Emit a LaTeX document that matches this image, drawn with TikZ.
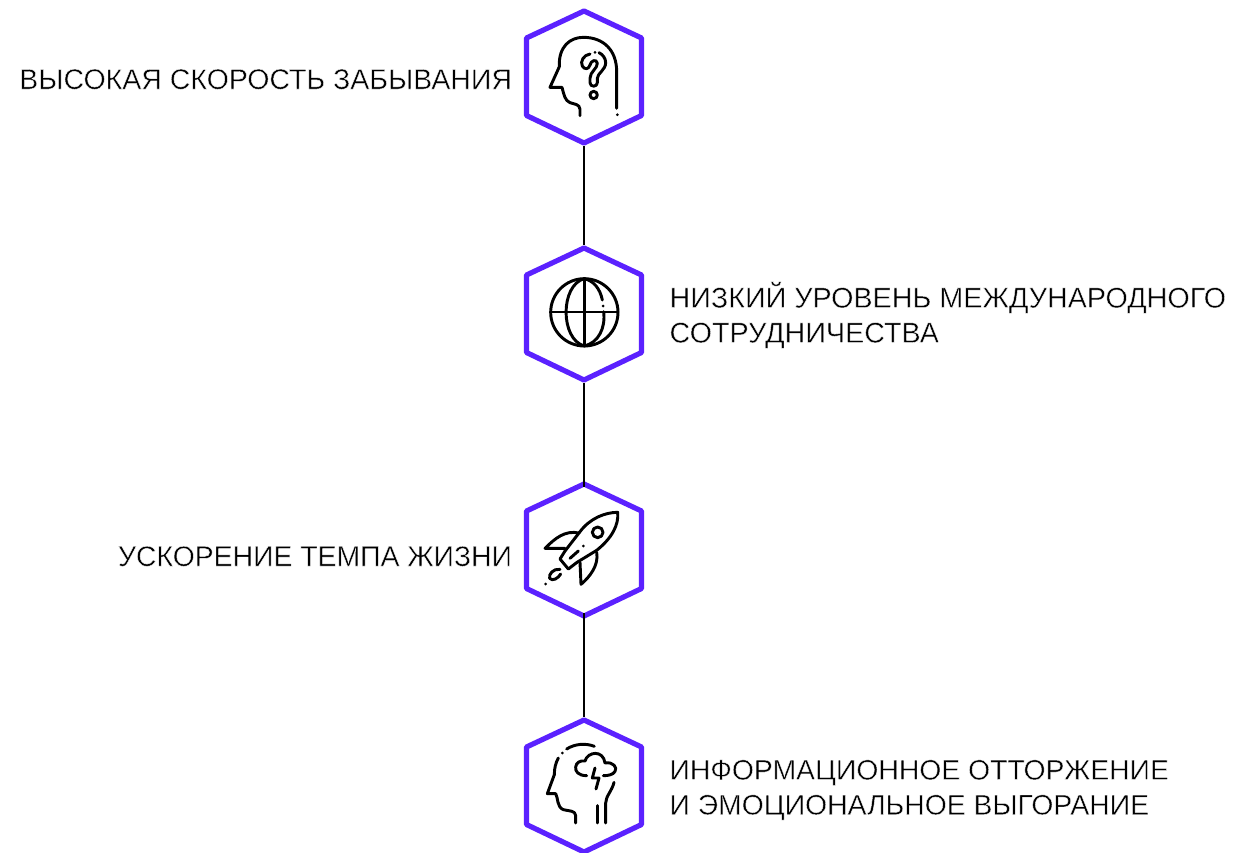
\documentclass[tikz,border=0pt]{standalone}
\usepackage{fontspec}
\setmainfont{Liberation Sans}
\newcommand{\lighttext}[1]{\special{pdf:code q 2 Tr 0.3 w 1 1 1 RG}#1\special{pdf:code Q}}
\tikzset{
 hexline/.style={draw=hexpurple,line width=5.2*0.75pt,line join=round},
 anchorbox/.style={inner sep=0pt,outer sep=0pt,minimum width=115*0.75pt},
 link/.style={draw=black,line width=1.6pt},
 icon/.style={draw=black,line width=2.2pt,line cap=round,line join=round,fill=none},
 spot/.style={fill=black,draw=none},
 lab/.style={inner sep=0pt,outer sep=0pt,font=\fontsize{#1}{26.2pt}\selectfont,align=left,text=black},
}
\definecolor{hexpurple}{HTML}{5B21FF}
\newcommand{\hexat}[1]{\draw[hexline] (#1)+(0,-66) -- +(57.5,-39) -- +(57.5,38.5) -- +(0,66) -- +(-57.5,38.5) -- +(-57.5,-39) -- cycle;}
\begin{document}
\begin{tikzpicture}[x=0.75pt,y=-0.75pt]
\useasboundingbox (0,0) rectangle (1235,853);
\node[anchorbox,minimum height=138*0.75pt] (h1) at (584,77) {};
\node[anchorbox,minimum height=138*0.75pt] (h2) at (584,314) {};
\node[anchorbox,minimum height=126*0.75pt] (h3) at (584,550) {};
\node[anchorbox,minimum height=138*0.75pt] (h4) at (584,786) {};
\hexat{h1}\hexat{h2}\hexat{h3}\hexat{h4}
\draw[link] (h1.south) -- (h2.north);
\draw[link] (h2.south) -- (h3.north);
\draw[link] (h3.south) -- (h4.north);
\node[lab=21.38pt,anchor=base east] (t1) at (512,89) {\lighttext{ВЫСОКАЯ СКОРОСТЬ ЗАБЫВАНИЯ}};
\node[lab=21.28pt,anchor=base east] (t3) at (512,566) {\lighttext{УСКОРЕНИЕ ТЕМПА ЖИЗНИ}};
\node[lab=21.55pt,anchor=west] (t2) at (669.5,315) {\lighttext{НИЗКИЙ УРОВЕНЬ МЕЖДУНАРОДНОГО}\\\lighttext{СОТРУДНИЧЕСТВА}};
\node[lab=21.25pt,anchor=west] (t4) at (669.5,790) {\lighttext{ИНФОРМАЦИОННОЕ ОТТОРЖЕНИЕ}\\\lighttext{И ЭМОЦИОНАЛЬНОЕ ВЫГОРАНИЕ}};
% head with question mark
\begin{scope}[shift={(515,0)},x=0.25pt,y=-0.25pt]
\draw[icon] (195,347) -- (195,328) .. controls (195,312) and (175,312) .. (165,308) .. controls (150,302) and (147,285) .. (141,262) -- (105,262) -- (133,200) .. controls (130,140) and (165,112) .. (205,112) .. controls (265,112) and (305,150) .. (305,215) -- (305,325);
\draw[icon] (225,162) .. controls (205,165) and (195,185) .. (202,198) .. controls (208,210) and (222,208) .. (225,195) .. controls (227,182) and (245,175) .. (247,190) .. controls (248,205) and (225,215) .. (225,235) -- (225,248) .. controls (225,262) and (247,262) .. (247,248) -- (247,235) .. controls (247,220) and (272,210) .. (272,188) .. controls (272,175) and (263,163) .. (252,158);
\draw[icon] (236,285) circle [radius=11];
\fill[spot] (240,157) circle [radius=4.5];
\fill[spot] (307,344) circle [radius=4.5];
\end{scope}
% globe
\begin{scope}[shift={(515,240)},x=0.25pt,y=-0.25pt]
\draw[icon] (208,217) circle [radius=101];
\draw[icon] (208,116) -- (208,318);
\draw[icon] (107,216) -- (309,216);
\draw[icon] (208,116) .. controls (135,135) and (135,298) .. (208,318) .. controls (250,308) and (272,265) .. (266,215);
\draw[icon] (208,116) .. controls (235,122) and (255,145) .. (262,180);
\fill[spot] (264,198) circle [radius=4.5];
\end{scope}
% rocket
\begin{scope}[shift={(515,475)},x=0.25pt,y=-0.25pt]
\draw[icon] (150,228) -- (195,170) .. controls (225,130) and (270,112) .. (308,112) .. controls (312,150) and (290,190) .. (245,226) -- (186,262);
\draw[icon] (150,228) -- (135,252) -- (160,282) -- (186,262);
\draw[icon] (165,250) -- (190,228);
\draw[icon] (248,172) circle [radius=16];
\draw[icon] (192,174) .. controls (150,165) and (120,190) .. (90,220) -- (150,220);
\draw[icon] (245,232) .. controls (252,270) and (225,305) .. (198,328) -- (195,262);
\draw[icon] (135,283) .. controls (115,280) and (100,298) .. (104,310) .. controls (112,320) and (130,310) .. (137,297);
\fill[spot] (205,213) circle [radius=4.5];
\fill[spot] (92,327) circle [radius=4.5];
\end{scope}
% head with cloud
\begin{scope}[shift={(515,703)},x=0.25pt,y=-0.25pt]
\draw[icon] (182,360) -- (182,338) .. controls (182,322) and (160,324) .. (145,320) .. controls (125,312) and (130,285) .. (122,272) -- (97,272) -- (118,215) .. controls (118,195) and (122,180) .. (130,165);
\fill[spot] (142,150) circle [radius=4.5];
\draw[icon] (155,138) .. controls (180,122) and (212,120) .. (238,130);
\draw[icon] (215,218) .. controls (190,218) and (180,205) .. (182,192) .. controls (184,178) and (195,172) .. (210,174) .. controls (218,145) and (265,140) .. (270,180) .. controls (295,175) and (308,195) .. (300,205) .. controls (295,215) and (280,218) .. (265,218);
\draw[icon] (240,195) -- (232,225) -- (252,225) -- (243,258);
\draw[icon] (297,238) .. controls (292,262) and (272,280) .. (272,300) -- (272,360);
\draw[icon] (247,308) -- (247,360);
\end{scope}
\end{tikzpicture}
\end{document}
